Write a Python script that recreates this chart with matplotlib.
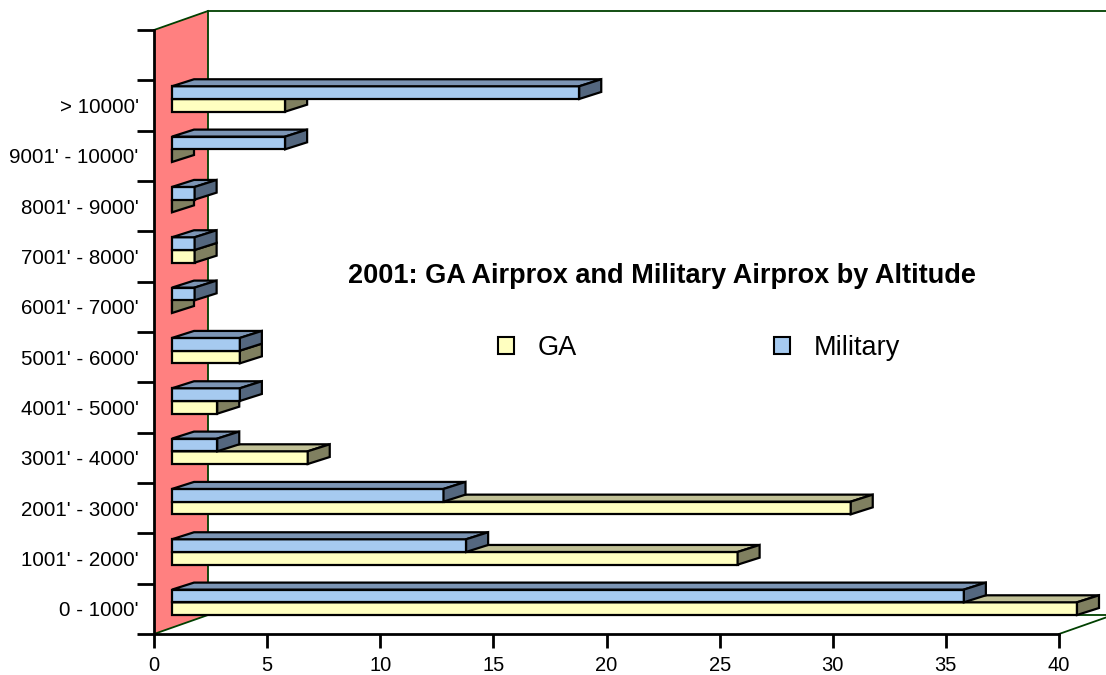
import matplotlib
matplotlib.use("Agg")
import matplotlib.pyplot as plt
from matplotlib.patches import Polygon, Rectangle

plt.rcParams['font.family'] = ['Liberation Sans', 'DejaVu Sans']

# ---- data ----
categories = ["0 - 1000'", "1001' - 2000'", "2001' - 3000'", "3001' - 4000'",
              "4001' - 5000'", "5001' - 6000'", "6001' - 7000'", "7001' - 8000'",
              "8001' - 9000'", "9001' - 10000'", "> 10000'"]
ga = [40, 25, 30, 6, 2, 3, 0, 1, 0, 0, 5]
military = [35, 13, 12, 2, 3, 3, 1, 1, 1, 5, 18]
series_names = ["GA", "Military"]
x_ticks = [0, 5, 10, 15, 20, 25, 30, 35, 40]
title = "2001: GA Airprox and Military Airprox by Altitude"

# ---- style ----
ga_front, ga_top, ga_side = "#FFFFC0", "#C0C096", "#808060"
mil_front, mil_top, mil_side = "#A6CAF0", "#7C95B5", "#54677F"
wall_color = "#FF8080"
green = "#004000"

fig = plt.figure(figsize=(11.06, 6.75), dpi=100)
W, H = 1106, 675
ax = fig.add_axes([154 / W, (H - 634) / H, 905 / W, 604 / H])
xmax = 40
nslots = 12
ax.set_xlim(0, xmax)
ax.set_ylim(0, nslots)

pxx = 905 / xmax   # px per x unit
pxy = 604 / nslots  # px per y unit

# depth vectors (data units)
wall_dx, wall_dy = 54 / pxx, 19 / pxy
bar_dx, bar_dy = 22 / pxx, 7 / pxy
x0 = 18 / pxx          # bar start offset
b0 = 19 / pxy          # bar bottom offset within slot
bh = 12.7 / pxy        # bar height

# back wall (left side)
wall = Polygon([(0, 0), (0, nslots), (wall_dx, nslots + wall_dy), (wall_dx, wall_dy)],
               closed=True, facecolor=wall_color, edgecolor='none', zorder=1, clip_on=False)
ax.add_patch(wall)
lw_g = 1.3
ax.plot([0, wall_dx], [nslots, nslots + wall_dy], color=green, lw=lw_g, clip_on=False, zorder=2)
ax.plot([wall_dx, wall_dx], [wall_dy, nslots + wall_dy], color=green, lw=lw_g, clip_on=False, zorder=2)
ax.plot([0, wall_dx], [0, wall_dy], color=green, lw=lw_g, clip_on=False, zorder=2)
ax.plot([wall_dx, xmax + wall_dx], [nslots + wall_dy, nslots + wall_dy], color=green, lw=lw_g,
        clip_on=False, zorder=2)
ax.plot([wall_dx, xmax + wall_dx], [wall_dy, wall_dy], color=green, lw=lw_g, clip_on=False, zorder=2)
ax.plot([xmax, xmax + wall_dx], [0, wall_dy], color=green, lw=lw_g, clip_on=False, zorder=2)

lw_b = 1.6


def draw_bar(slot, bottom, value, cfront, ctop, cside, z):
    yb = slot + bottom
    yt = yb + bh
    ax.barh(yb + bh / 2, value, left=x0, height=bh, color=cfront, edgecolor='black',
            linewidth=lw_b, zorder=z, clip_on=False)
    top = Polygon([(x0, yt), (x0 + value, yt), (x0 + value + bar_dx, yt + bar_dy),
                   (x0 + bar_dx, yt + bar_dy)], closed=True, facecolor=ctop,
                  edgecolor='black', linewidth=lw_b, zorder=z, clip_on=False, joinstyle='miter')
    side = Polygon([(x0 + value, yb), (x0 + value + bar_dx, yb + bar_dy),
                    (x0 + value + bar_dx, yt + bar_dy), (x0 + value, yt)], closed=True,
                   facecolor=cside, edgecolor='black', linewidth=lw_b, zorder=z, clip_on=False,
                   joinstyle='miter')
    ax.add_patch(top)
    ax.add_patch(side)


for i in range(len(categories)):
    z = 3 + (len(categories) - i) * 0.1
    draw_bar(i, b0, ga[i], ga_front, ga_top, ga_side, z)
    draw_bar(i, b0 + bh, military[i], mil_front, mil_top, mil_side, z + 0.05)

# axes styling
for s in ['top', 'right']:
    ax.spines[s].set_visible(False)
for s in ['left', 'bottom']:
    ax.spines[s].set_linewidth(2)
    ax.spines[s].set_zorder(2.5)
ax.patch.set_visible(False)

ax.set_xticks(x_ticks)
ax.set_xticklabels([str(t) for t in x_ticks], fontsize=14.5)
ax.tick_params(axis='x', direction='out', length=10, width=2, pad=6)

ax.set_yticks(range(nslots + 1))
ax.set_yticklabels([])
ax.tick_params(axis='y', which='major', direction='out', length=12, width=2)
ax.set_yticks([i + 0.5 for i in range(len(categories))], minor=True)
ax.set_yticklabels(categories, minor=True, fontsize=14.8)
ax.tick_params(axis='y', which='minor', length=0, pad=11)

fig.text(662 / W, 1 - 276 / H, title, ha='center', va='center', fontsize=19.5, fontweight='bold')

handles = [Rectangle((0, 0), 1, 1, facecolor=ga_front, edgecolor='black', linewidth=1.5),
           Rectangle((0, 0), 1, 1, facecolor=mil_front, edgecolor='black', linewidth=1.5)]
fig.legend(handles, series_names, loc='center left', bbox_to_anchor=(498 / W, 1 - 348 / H),
           ncol=2, frameon=False, fontsize=19.5, borderpad=0, borderaxespad=0,
           handlelength=0.6, handleheight=0.6, handletextpad=0.85, columnspacing=7.3)

fig.savefig("out.png", dpi=100)
